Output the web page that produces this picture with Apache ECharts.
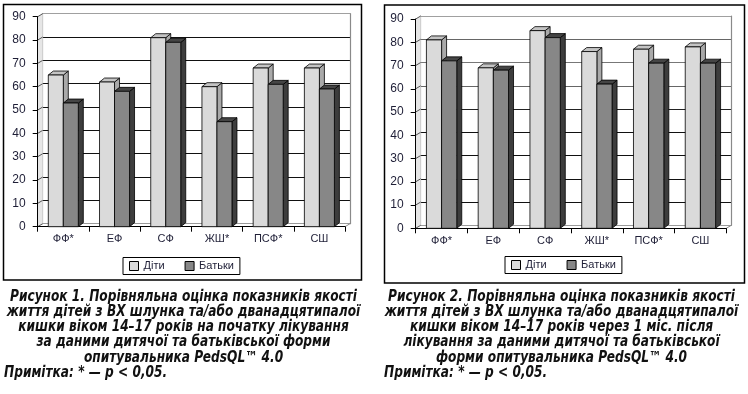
<!DOCTYPE html>
<html>
<head>
<meta charset="utf-8">
<script src="https://cdn.jsdelivr.net/npm/echarts@6/dist/echarts.min.js"></script>
<style>
html,body{margin:0;padding:0;background:#fff;}
#c{width:748px;height:394px;}
</style>
</head>
<body>
<div id="c"></div>
<script>
// ---- data ----
const categories = ['ФФ*', 'ЕФ', 'СФ', 'ЖШ*', 'ПСФ*', 'СШ'];
const yTicks = [0, 10, 20, 30, 40, 50, 60, 70, 80, 90];
const seriesNames = ['Діти', 'Батьки'];
const fig1Children = [65, 62, 81, 60, 68, 68];
const fig1Parents = [53, 58, 79, 45, 61, 59];
const fig2Children = [81, 69, 85, 76, 77, 78];
const fig2Parents = [72, 68, 82, 62, 71, 71];
const caption1 = [
  'Рисунок 1. Порівняльна оцінка показників якості',
  'життя дітей з ВХ шлунка та/або дванадцятипалої',
  'кишки віком 14–17 років на початку лікування',
  'за даними дитячої та батьківської форми',
  'опитувальника PedsQL™ 4.0'
];
const caption2 = [
  'Рисунок 2. Порівняльна оцінка показників якості',
  'життя дітей з ВХ шлунка та/або дванадцятипалої',
  'кишки віком 14–17 років через 1 міс. після',
  'лікування за даними дитячої та батьківської',
  'форми опитувальника PedsQL™ 4.0'
];
const note = 'Примітка: * — p < 0,05.';

// ---- styles ----
const TXT = '#1e1e36';
const FONT = 'Liberation Sans';
const DX = 5, DY = 3;          // wall depth
const BDX = 5, BDY = 4;        // bar depth
const colors = [
  {front: '#dadada', top: '#c4c4c4', side: '#a9a9a9'},
  {front: '#878787', top: '#454545', side: '#3d3d3d'}
];

const panels = [
  {left: 37.7, top: 16.7, width: 307.3, height: 210, data: [fig1Children, fig1Parents],
   legendLeft: 123, legendTop: 257.5,
   gridColors: ['#9a9a9a', '#111', '#111', '#111', '#111', '#111', '#111', '#111', '#111', '#a0a0a0']},
  {left: 415.7, top: 19, width: 310.6, height: 209.3, data: [fig2Children, fig2Parents],
   legendLeft: 505, legendTop: 256.5,
   gridColors: ['#9a9a9a', '#111', '#111', '#111', '#111', '#222', '#666', '#777', '#666', '#a0a0a0']}
];

const grid = [], xAxis = [], yAxis = [], series = [], legend = [];
const yMin = yTicks[0], yMax = yTicks[yTicks.length - 1], yStep = yTicks[1] - yTicks[0];

panels.forEach((p, pi) => {
  const gFront = grid.length;
  grid.push({left: p.left, top: p.top, width: p.width, height: p.height, containLabel: false});
  grid.push({left: p.left + DX, top: p.top - DY, width: p.width, height: p.height, containLabel: false});
  const xFront = xAxis.length;
  xAxis.push({
    type: 'category', gridIndex: gFront, data: categories,
    axisLine: {lineStyle: {color: '#000', width: 1}},
    axisTick: {show: true, interval: 0, length: 5, lineStyle: {color: '#000'}},
    axisLabel: {color: TXT, fontFamily: FONT, fontSize: 11, margin: 7, interval: 0},
    splitLine: {show: false}, z: 3
  });
  xAxis.push({
    type: 'category', gridIndex: gFront + 1, data: categories,
    axisLine: {show: false}, axisTick: {show: false}, axisLabel: {show: false}, splitLine: {show: false}
  });
  const yFront = yAxis.length;
  yAxis.push({
    type: 'value', gridIndex: gFront, min: yMin, max: yMax, interval: yStep,
    axisLine: {show: true, lineStyle: {color: '#000', width: 1}},
    axisTick: {show: true, length: 5, lineStyle: {color: '#000'}},
    axisLabel: {color: TXT, fontFamily: FONT, fontSize: 12, margin: 12},
    splitLine: {show: false}, z: 3
  });
  yAxis.push({
    type: 'value', gridIndex: gFront + 1, min: yMin, max: yMax, interval: yStep,
    axisLine: {show: true, lineStyle: {color: '#a0a0a0', width: 1.2}},
    axisTick: {show: false}, axisLabel: {show: false},
    splitLine: {show: true, lineStyle: {color: p.gridColors, width: 1.1}}
  });
  yAxis.push({
    type: 'value', gridIndex: gFront + 1, position: 'right', min: yMin, max: yMax, interval: yStep,
    axisLine: {show: true, lineStyle: {color: '#8a8a8a', width: 1.2}},
    axisTick: {show: false}, axisLabel: {show: false}, splitLine: {show: false}
  });

  // scaffold: side wall, connectors, floor edge
  series.push({
    type: 'custom', name: 'scaffold' + pi, xAxisIndex: xFront, yAxisIndex: yFront,
    silent: true, z: 1, legendHoverLink: false,
    data: yTicks.map(v => [0, v]),
    renderItem: function (params, api) {
      const v = api.value(1);
      const c = api.coord([0, v]);
      const band = api.size([1, 0])[0];
      const x0 = c[0] - band / 2;
      const children = [];
      if (v === yMin) {
        const topC = api.coord([0, yMax]);
        const last = api.coord([categories.length - 1, yMin]);
        const xr = last[0] + band / 2;
        children.push({type: 'polygon', shape: {points: [[x0, c[1]], [x0 + DX, c[1] - DY], [x0 + DX, topC[1] - DY], [x0, topC[1]]]},
          style: {fill: '#e6e6e6', stroke: null}});
        children.push({type: 'line', shape: {x1: xr, y1: c[1], x2: xr + DX, y2: c[1] - DY},
          style: {stroke: '#8a8a8a', lineWidth: 1}});
      }
      children.push({type: 'line', shape: {x1: x0, y1: c[1], x2: x0 + DX, y2: c[1] - DY},
        style: {stroke: '#555', lineWidth: 1}});
      return {type: 'group', children: children};
    }
  });

  // 3D bars
  p.data.forEach((vals, si) => {
    const col = colors[si];
    series.push({
      type: 'custom', name: seriesNames[si], xAxisIndex: xFront, yAxisIndex: yFront, z: 5,
      itemStyle: {color: col.front, borderColor: '#000', borderWidth: 1},
      data: vals.map((v, i) => [i, v]),
      encode: {x: 0, y: 1},
      renderItem: function (params, api) {
        const i = api.value(0), v = api.value(1);
        const b = api.coord([i, 0]);
        const t = api.coord([i, v]);
        const band = api.size([1, 0])[0];
        const w = band * 0.293;
        const x = si === 0 ? b[0] - w : b[0];
        const ty = t[1], by = b[1];
        const st = {stroke: '#000', lineWidth: 0.8, lineJoin: 'round'};
        return {type: 'group', children: [
          {type: 'polygon', shape: {points: [[x + w, ty], [x + w + BDX, ty - BDY], [x + w + BDX, by - BDY], [x + w, by]]},
           style: Object.assign({fill: col.side}, st)},
          {type: 'polygon', shape: {points: [[x, ty], [x + BDX, ty - BDY], [x + w + BDX, ty - BDY], [x + w, ty]]},
           style: Object.assign({fill: col.top}, st)},
          {type: 'rect', shape: {x: x, y: ty, width: w, height: by - ty},
           style: Object.assign({fill: col.front}, st)}
        ]};
      }
    });
  });

  legend.push({
    data: seriesNames.map((n, si) => ({name: n, icon: 'rect',
      itemStyle: {color: colors[si].front, borderColor: '#000', borderWidth: 1}})),
    left: p.legendLeft, top: p.legendTop, orient: 'horizontal',
    itemWidth: 9, itemHeight: 9, itemGap: 20,
    borderColor: '#000', borderWidth: 1, padding: [3, 6, 3, 6],
    textStyle: {color: TXT, fontFamily: FONT, fontSize: 11},
    selectedMode: false
  });
});

// captions
const capFamily = '"Liberation Sans Narrow", "DejaVu Sans Condensed", sans-serif';
const capSize = 15;
const measureCtx = document.createElement('canvas').getContext('2d');
measureCtx.font = 'italic bold ' + capSize + 'px ' + capFamily;
const targetLine1 = 347;
const graphic = [
  {type: 'rect', shape: {x: 3.5, y: 4.5, width: 358, height: 275.5}, style: {fill: null, stroke: '#000', lineWidth: 1.5}, silent: true},
  {type: 'rect', shape: {x: 384.5, y: 5, width: 360, height: 278}, style: {fill: null, stroke: '#000', lineWidth: 1.5}, silent: true}
];
const capFont = {fontFamily: capFamily, fontStyle: 'italic', fontWeight: 'bold', fontSize: capSize};
[[caption1, 183.5, 4], [caption2, 561.5, 384]].forEach(([lines, cx, nx]) => {
  const sx = Math.min(1, targetLine1 / measureCtx.measureText(lines[0]).width);
  lines.forEach((ln, k) => {
    graphic.push({type: 'text', x: cx, y: 297 + k * 15.2, scaleX: sx, silent: true,
      style: Object.assign({text: ln, fill: '#111', textAlign: 'center', textVerticalAlign: 'middle'}, capFont)});
  });
  graphic.push({type: 'text', x: nx, y: 297 + 5 * 15.2, scaleX: sx, silent: true,
    style: Object.assign({text: note, fill: '#111', textAlign: 'left', textVerticalAlign: 'middle'}, capFont)});
});

const chart = echarts.init(document.getElementById('c'), null, {renderer: 'canvas'});
chart.setOption({
  animation: false,
  backgroundColor: '#fff',
  grid: grid, xAxis: xAxis, yAxis: yAxis, series: series, legend: legend, graphic: graphic
});
</script>
</body>
</html>
